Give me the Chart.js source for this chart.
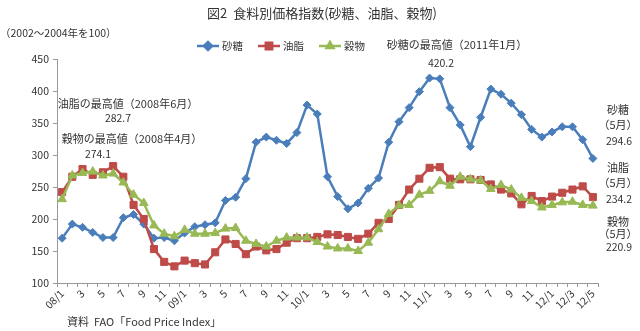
<!DOCTYPE html>
<html>
<head>
<meta charset="utf-8">
<script src="https://cdn.jsdelivr.net/npm/chart.js@4"></script>
<style>
  html, body { margin: 0; padding: 0; background: #fff; }
  #wrap { width: 640px; height: 331px; position: relative; }
</style>
</head>
<body>
<div id="wrap"><canvas id="priceChart" width="640" height="331"></canvas></div>
<script>
// month labels (only odd months are printed)
const months = [
  "08/1", "", "3", "", "5", "", "7", "", "9", "", "11", "",
  "09/1", "", "3", "", "5", "", "7", "", "9", "", "11", "",
  "10/1", "", "3", "", "5", "", "7", "", "9", "", "11", "",
  "11/1", "", "3", "", "5", "", "7", "", "9", "", "11", "",
  "12/1", "", "12/3", "", "12/5"
];

// FAO price index, 2002-2004 = 100
const sugar = [
  170, 192, 187, 179, 171, 171, 202, 207, 192, 170,
  171, 166, 178, 188, 191, 194, 229, 234, 263, 320,
  328, 323, 318, 335, 378, 364, 266, 235, 216, 225,
  248, 264, 320, 352, 374, 399, 420.2, 419, 374, 347,
  313, 359, 403, 395, 381, 363, 340, 328, 336, 344,
  344, 324, 294.6
];
const oils = [
  242, 266, 278, 269, 273, 282.7, 266, 222, 200, 153,
  133, 126, 135, 131, 129, 148, 168, 161, 145, 157,
  151, 153, 163, 170, 170, 172, 176, 175, 172, 169,
  177, 194, 200, 222, 246, 263, 280, 281, 263, 262,
  262, 261, 254, 246, 240, 223, 236, 228, 235, 241,
  246, 251, 234.2
];
const cereals = [
  231, 268, 272, 274.1, 268, 271, 257, 238, 225, 190,
  177, 173, 183, 177, 177, 178, 185, 186, 166, 161,
  157, 166, 171, 171, 171, 164, 157, 154, 154, 150,
  163, 184, 208, 221, 222, 238, 244, 259, 252, 266,
  262, 260, 247, 253, 246, 233, 228, 218, 222, 226,
  227, 222, 220.9
];

const seriesNames = ["砂糖", "油脂", "穀物"];
const BLUE = "#4a7ebb", RED = "#be4b48", GREEN = "#98b954";
const FONT = "'Noto Sans CJK JP', 'Noto Sans', sans-serif";
const TEXT = "#333";

function text(ctx, str, x, y, size, align) {
  ctx.font = size + "px " + FONT;
  ctx.textAlign = align || "left";
  ctx.textBaseline = "middle";
  ctx.fillStyle = TEXT;
  ctx.fillText(str, x, y);
}

// title, legend, notes and peak labels
const notes = {
  id: "notes",
  afterDraw(chart) {
    const ctx = chart.ctx;
    ctx.save();
    text(ctx, "図2  食料別価格指数(砂糖、油脂、穀物)", 322, 13, 13, "center");
    text(ctx, "（2002～2004年を100）", 0, 33, 10.5);

    // legend
    const items = [[197, BLUE, "rectRot"], [258, RED, "rect"], [319, GREEN, "triangle"]];
    items.forEach((it, i) => {
      const [x, c, shape] = it, y = 46;
      ctx.strokeStyle = c;
      ctx.lineWidth = 2.5;
      ctx.beginPath(); ctx.moveTo(x, y); ctx.lineTo(x + 22, y); ctx.stroke();
      Chart.helpers.drawPoint(ctx, { pointStyle: shape, radius: shape === "rect" ? 4.5 : 4, borderWidth: 1 }, x + 11, y);
      ctx.fillStyle = c; ctx.fill();
      text(ctx, seriesNames[i], x + 25, y, 10.5);
    });

    text(ctx, "砂糖の最高値（2011年1月）", 457, 45, 11, "center");
    text(ctx, sugar[36].toFixed(1), 441, 63, 10.5, "center");
    text(ctx, "油脂の最高値（2008年6月）", 128, 104, 11, "center");
    text(ctx, oils[5].toFixed(1), 118, 118, 10.5, "center");
    text(ctx, "穀物の最高値（2008年4月）", 132, 139, 11, "center");
    text(ctx, cereals[3].toFixed(1), 98, 154, 10.5, "center");

    // latest month (May 2012) on the right
    const last = months.length - 1;
    text(ctx, "砂糖", 618, 110, 11, "center");
    text(ctx, "（5月）", 618, 125, 11, "center");
    text(ctx, sugar[last].toFixed(1), 619, 141, 10.5, "center");
    text(ctx, "油脂", 618, 168, 11, "center");
    text(ctx, "（5月）", 618, 183, 11, "center");
    text(ctx, oils[last].toFixed(1), 619, 199, 10.5, "center");
    text(ctx, "穀物", 618, 222, 11, "center");
    text(ctx, "（5月）", 618, 234, 11, "center");
    text(ctx, cereals[last].toFixed(1), 619, 247, 10.5, "center");

    text(ctx, "資料  FAO「Food Price Index」", 67, 322, 11);
    ctx.restore();
  }
};

function series(label, data, color, shape, radius, order) {
  return {
    label: label,
    data: data,
    borderColor: color,
    backgroundColor: color,
    borderWidth: 2.5,
    pointStyle: shape,
    pointRadius: radius,
    pointBorderWidth: 1,
    pointHoverRadius: radius,
    tension: 0,
    order: order
  };
}

new Chart(document.getElementById("priceChart"), {
  type: "line",
  data: {
    labels: months,
    datasets: [
      series(seriesNames[0], sugar, BLUE, "rectRot", 4, 3),
      series(seriesNames[1], oils, RED, "rect", 5, 2),
      series(seriesNames[2], cereals, GREEN, "triangle", 5, 1)
    ]
  },
  options: {
    responsive: false,
    animation: false,
    devicePixelRatio: 1,
    layout: { padding: { left: 0, right: 42, top: 59, bottom: 0 } },
    plugins: { legend: { display: false }, tooltip: { enabled: false } },
    scales: {
      x: {
        offset: true,
        afterFit(scale) { scale.height = 48; },
        grid: { offset: true, drawOnChartArea: false, drawTicks: true, tickLength: 4, color: "#999" },
        border: { color: "#999" },
        ticks: {
          autoSkip: false, minRotation: 45, maxRotation: 45, padding: 0,
          color: TEXT, font: { family: FONT, size: 10.5 }
        }
      },
      y: {
        min: 100, max: 450,
        afterFit(scale) { scale.width = 57; },
        grid: { drawOnChartArea: false, drawTicks: true, tickLength: 4, color: "#999" },
        border: { color: "#999" },
        ticks: { stepSize: 50, padding: 4, color: TEXT, font: { family: FONT, size: 10.5 } }
      }
    }
  },
  plugins: [notes]
});
</script>
</body>
</html>
